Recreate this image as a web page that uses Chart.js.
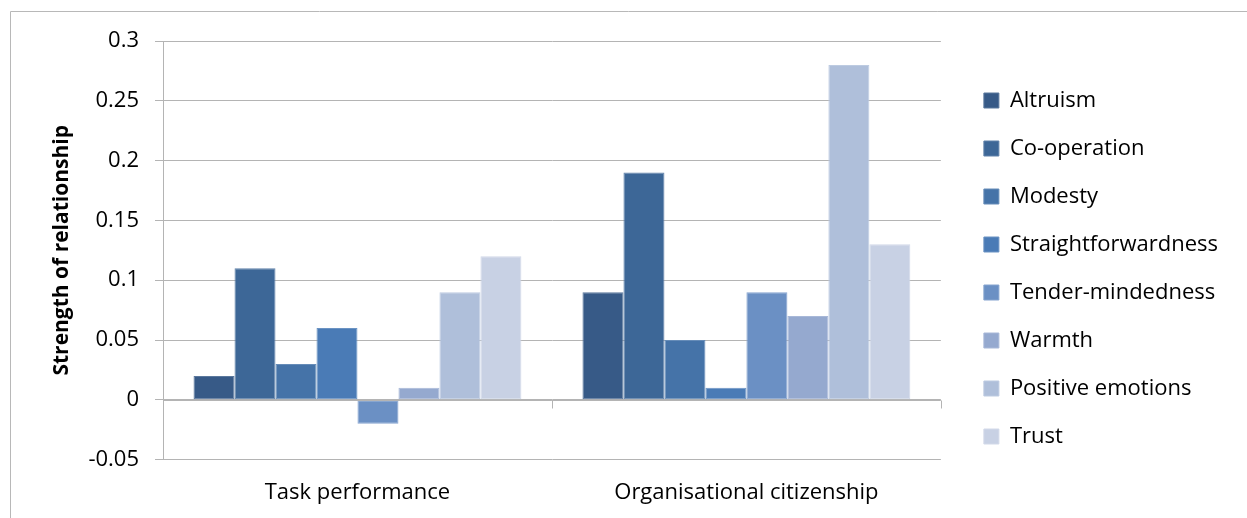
<!DOCTYPE html>
<html>
<head>
<meta charset="utf-8">
<script src="https://cdn.jsdelivr.net/npm/chart.js@4.4.1/dist/chart.umd.min.js"></script>
<style>
  html, body { margin: 0; padding: 0; background: #fff; overflow: hidden; }
  #wrap { position: relative; width: 1247px; height: 518px; }
</style>
</head>
<body>
<div id="wrap"><canvas id="chart"></canvas></div>
<script>
const categories = ["Task performance", "Organisational citizenship"]
const seriesNames = ["Altruism", "Co-operation", "Modesty", "Straightforwardness",
                     "Tender-mindedness", "Warmth", "Positive emotions", "Trust"]
const altruism            = [0.02, 0.09]
const cooperation         = [0.11, 0.19]
const modesty             = [0.03, 0.05]
const straightforwardness = [0.06, 0.01]
const tenderMindedness    = [-0.02, 0.09]
const warmth              = [0.01, 0.07]
const positiveEmotions    = [0.09, 0.28]
const trust               = [0.12, 0.13]
const seriesValues = [altruism, cooperation, modesty, straightforwardness,
                      tenderMindedness, warmth, positiveEmotions, trust]
const yTicks = [-0.05, 0, 0.05, 0.1, 0.15, 0.2, 0.25, 0.3]

const colors = ['#375a87', '#3d6797', '#4573a8', '#4a7bb6',
                '#6b90c4', '#95a9cf', '#afbfda', '#c8d1e4']

const FONT = '"Open Sans"'
const GRID = '#b4b4b4'

// lighter edge of each bar, like the Excel bevel
function lighten(hex, t) {
  const n = parseInt(hex.slice(1), 16)
  const ch = [(n >> 16) & 255, (n >> 8) & 255, n & 255].map(v => Math.round(v + (255 - v) * t))
  return `rgb(${ch.join(',')})`
}

// outer frame (only top and left edges visible in the crop)
const framePlugin = {
  id: 'frame',
  beforeDraw(chart) {
    const c = chart.ctx
    c.save()
    c.strokeStyle = '#b8b8b8'
    c.lineWidth = 1
    c.beginPath()
    c.moveTo(10.5, chart.height)
    c.lineTo(10.5, 11.5)
    c.lineTo(chart.width, 11.5)
    c.stroke()
    c.restore()
  }
}

// category tick marks hanging from the zero line, Excel style
const zeroTicks = {
  id: 'zeroTicks',
  afterDatasetsDraw(chart) {
    const x = chart.scales.x, y = chart.scales.y
    const y0 = Math.round(y.getPixelForValue(0)) + 0.5
    const c = chart.ctx
    c.save()
    c.strokeStyle = GRID
    c.lineWidth = 1
    c.beginPath()
    c.moveTo(chart.chartArea.left, y0)
    c.lineTo(chart.chartArea.right, y0)
    for (let i = 0; i < categories.length; i++) {
      const px = i < categories.length - 1
        ? (x.getPixelForTick(i) + x.getPixelForTick(i + 1)) / 2
        : chart.chartArea.right
      const xx = Math.round(px) + 0.5
      c.moveTo(xx, y0)
      c.lineTo(xx, y0 + 8)
    }
    c.stroke()
    c.restore()
  }
}

// nudge the legend column away from the plot
const legendShift = {
  id: 'legendShift',
  afterLayout(chart) {
    const l = chart.legend
    l.left += 17
    l.right += 17
    l.top -= 11
    l.bottom -= 11
  }
}

const ctx = document.getElementById('chart').getContext('2d')
new Chart(ctx, {
  type: 'bar',
  data: {
    labels: categories,
    datasets: seriesNames.map((name, i) => ({
      label: name,
      data: seriesValues[i],
      backgroundColor: colors[i],
      borderColor: lighten(colors[i], 0.18),
      borderWidth: 1,
      borderSkipped: false,
      categoryPercentage: 0.843,
      barPercentage: 1
    }))
  },
  options: {
    responsive: true,
    maintainAspectRatio: false,
    animation: false,
    devicePixelRatio: 1,
    layout: { padding: { left: 10, top: 41, right: 36, bottom: 0 } },
    scales: {
      x: {
        grid: { display: false },
        border: { display: false },
        ticks: { color: '#000', font: { family: FONT, size: 22 }, padding: 12 }
      },
      y: {
        min: -0.05,
        max: 0.3,
        afterBuildTicks(scale) { scale.ticks = yTicks.map(v => ({ value: v })) },
        afterFit(scale) { scale.width = 153 },
        grid: { color: GRID, tickLength: 8, drawTicks: true },
        border: { display: true, color: GRID },
        ticks: {
          color: '#000',
          font: { family: FONT, size: 22 },
          padding: 16,
          callback: v => String(Math.round(v * 100) / 100)
        },
        title: {
          display: true,
          text: 'Strength of relationship',
          color: '#000',
          font: { family: FONT, size: 21, weight: 'bold' },
          padding: { top: 39, bottom: 0 }
        }
      }
    },
    plugins: {
      legend: {
        position: 'right',
        align: 'center',
        labels: {
          boxWidth: 15,
          boxHeight: 15,
          padding: 26,
          color: '#000',
          font: { family: FONT, size: 22 }
        }
      },
      tooltip: { enabled: false }
    }
  },
  plugins: [framePlugin, zeroTicks, legendShift]
})
</script>
</body>
</html>
